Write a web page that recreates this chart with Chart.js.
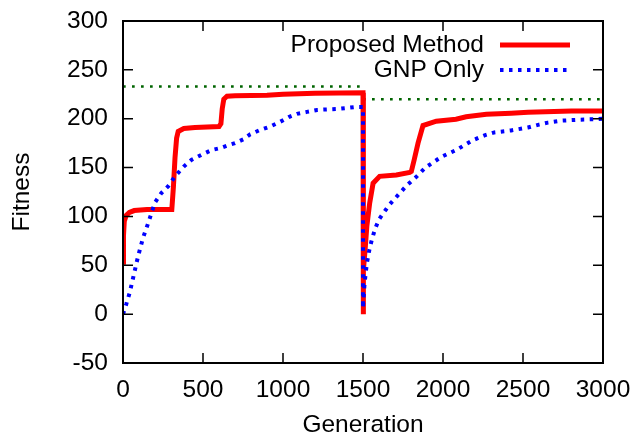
<!DOCTYPE html>
<html><head><meta charset="utf-8">
<script src="https://cdn.jsdelivr.net/npm/chart.js@4"></script>
<style>html,body{margin:0;padding:0;background:#fff;}canvas{display:block;}</style>
</head><body>
<canvas id="c" width="636" height="437"></canvas>
<script>
// ---- data ----
const propGen = [0, 3, 8, 20, 40, 70, 150, 305, 315, 325, 335, 345, 380, 450, 600, 612, 620, 630, 650, 700, 900, 1000, 1200, 1500,
  1500, 1502, 1505, 1510, 1515, 1524, 1542, 1563, 1604, 1708, 1792, 1802, 1820, 1844, 1875, 1958, 2081, 2145, 2271, 2426, 2531, 2803, 3000];
const propFit = [53, 80, 95, 101, 104, 106, 107, 107, 130, 160, 180, 187, 190, 191, 192, 195, 210, 220, 223, 223.5, 224, 225, 226, 226.5,
  0, 25, 45, 60, 70, 90, 114, 134, 141, 142.5, 145, 146, 158, 175, 193, 197.5, 199.5, 202, 204.5, 205.5, 206.5, 208, 208];
const gnpGen = [0, 20, 42, 70, 94, 125, 157, 199, 240, 283, 325, 380, 429, 490, 555, 610, 659, 700, 753, 795, 850, 920, 984, 1040, 1088, 1150, 1213, 1339, 1454, 1500,
  1500, 1503, 1510, 1524, 1540, 1555, 1575, 1600, 1630, 1665, 1720, 1775, 1830, 1890, 1990, 2083, 2187, 2260, 2321, 2426, 2531, 2600, 2656, 2740, 2850, 2950, 3000];
const gnpFit = [0, 10, 22, 42, 59, 78, 93, 114, 124, 131, 141, 151, 158, 163, 168, 170, 173, 175, 179, 184, 188, 192, 197, 202, 205, 207, 209, 210, 212, 212,
  6, 15, 32, 52, 66, 76, 87, 97, 104, 112, 122, 132, 140, 150, 161, 168, 178, 183, 186, 188, 191, 194, 196, 198, 199, 199.5, 200];
const bestGen1 = [0, 1500];
const bestFit1 = [233, 233];
const bestGen2 = [1500, 3000];
const bestFit2 = [220, 220];
const seriesNames = ['Proposed Method', 'GNP Only'];
const xTitle = 'Generation';
const yTitle = 'Fitness';

const FONT = "'Liberation Sans', Arial, Helvetica, sans-serif";
const FS = 24.5;
const toPts = (xs, ys) => xs.map((x, i) => ({ x: x, y: ys[i] }));

const framePlugin = {
  id: 'frame',
  afterDatasetsDraw(chart) {
    const { ctx, chartArea: a, scales } = chart;
    const x = scales.x, y = scales.y;
    ctx.save();
    ctx.strokeStyle = '#000';
    ctx.lineWidth = 1.5;
    ctx.beginPath();
    x.ticks.forEach(t => {
      const px = x.getPixelForValue(t.value);
      ctx.moveTo(px, a.bottom); ctx.lineTo(px, a.bottom - 10);
      ctx.moveTo(px, a.top); ctx.lineTo(px, a.top + 10);
    });
    y.ticks.forEach(t => {
      const py = y.getPixelForValue(t.value);
      ctx.moveTo(a.left, py); ctx.lineTo(a.left + 10, py);
      ctx.moveTo(a.right, py); ctx.lineTo(a.right - 10, py);
    });
    ctx.stroke();
    ctx.lineWidth = 2;
    ctx.strokeRect(a.left, a.top, a.right - a.left, a.bottom - a.top);

    // key (legend), gnuplot style: text right-aligned, sample on the right
    ctx.font = FS + 'px ' + FONT;
    ctx.fillStyle = '#000';
    ctx.textAlign = 'right';
    ctx.textBaseline = 'middle';
    [0, 1].forEach((di, i) => {
      const ds = chart.data.datasets[di];
      const ly = 45 + i * 25;
      ctx.fillText(ds.label, 484, ly);
      ctx.beginPath();
      ctx.strokeStyle = ds.borderColor;
      ctx.lineWidth = ds.borderWidth;
      ctx.setLineDash(ds.borderDash || []);
      ctx.moveTo(500, ly);
      ctx.lineTo(570, ly);
      ctx.stroke();
      ctx.setLineDash([]);
    });
    ctx.restore();
  }
};

Chart.defaults.color = '#000';
Chart.defaults.font.family = FONT;
Chart.defaults.font.size = FS;

new Chart(document.getElementById('c'), {
  type: 'line',
  data: {
    datasets: [
      { label: seriesNames[0], data: toPts(propGen, propFit), borderColor: '#ff0000', borderWidth: 5, pointRadius: 0, tension: 0, order: 2 },
      { label: seriesNames[1], data: toPts(gnpGen, gnpFit), borderColor: '#0000ff', borderWidth: 4, borderDash: [3.5, 5.5], pointRadius: 0, tension: 0, order: 1 },
      { label: 'best1', data: toPts(bestGen1, bestFit1), borderColor: '#006400', borderWidth: 2.5, borderDash: [2.7, 6.3], pointRadius: 0, order: 3 },
      { label: 'best2', data: toPts(bestGen2, bestFit2), borderColor: '#006400', borderWidth: 2.5, borderDash: [2.7, 6.3], pointRadius: 0, order: 3 }
    ]
  },
  options: {
    responsive: false,
    animation: false,
    events: [],
    layout: { padding: { left: 0, right: 33, top: 21, bottom: 0 } },
    scales: {
      x: {
        type: 'linear', min: 0, max: 3000,
        grid: { display: false, drawTicks: false },
        border: { display: false },
        ticks: { stepSize: 500, padding: 13, maxRotation: 0, autoSkip: false, callback: v => String(v) },
        title: { display: true, text: xTitle, padding: { top: 0, bottom: -3 } },
        afterFit: s => { s.height = 74; s.paddingLeft = 0; s.paddingRight = 0; }
      },
      y: {
        type: 'linear', min: -50, max: 300,
        grid: { display: false, drawTicks: false },
        border: { display: false },
        ticks: { stepSize: 50, padding: 15, autoSkip: false, callback: v => String(v) },
        title: { display: true, text: yTitle, padding: { top: 8, bottom: 0 } },
        afterFit: s => { s.width = 123; s.paddingTop = 0; s.paddingBottom = 0; }
      }
    },
    plugins: { legend: { display: false }, tooltip: { enabled: false } }
  },
  plugins: [framePlugin]
});
</script>
</body></html>
